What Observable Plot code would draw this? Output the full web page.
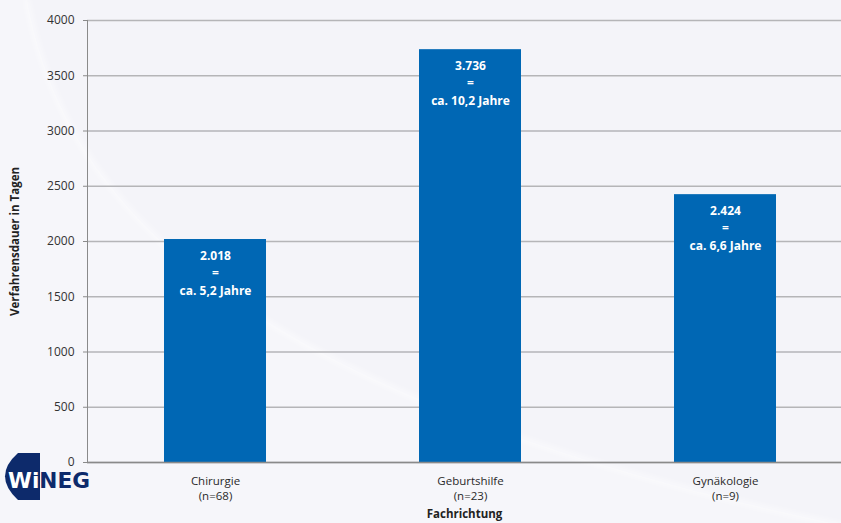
<!DOCTYPE html>
<html lang="de">
<head>
<meta charset="utf-8">
<script src="https://cdn.jsdelivr.net/npm/d3@7"></script>
<script src="https://cdn.jsdelivr.net/npm/@observablehq/plot@0.6"></script>
<style>
  html, body { margin: 0; padding: 0; background: #f4f4f9; }
  #wrap { position: relative; width: 841px; height: 523px; overflow: hidden; }
  #bg, #logo { position: absolute; left: 0; top: 0; pointer-events: none; }
  #chart { position: absolute; left: 0; top: 0; }
  #chart svg { background: transparent; overflow: visible; }
</style>
</head>
<body>
<div id="wrap">
  <svg id="bg" width="841" height="523">
    <defs>
      <filter id="soft" x="-10%" y="-10%" width="120%" height="120%"><feGaussianBlur stdDeviation="2.5"/></filter>
    </defs>
    <path d="M0,0 L27,0 C60,180 200,390 841,525 L0,523 Z" fill="#f6f6fa"/>
    <path d="M27,0 C60,180 200,390 841,525" fill="none" stroke="#ffffff" stroke-width="4" stroke-opacity="0.55" filter="url(#soft)"/>
  </svg>
  <div id="chart"></div>
  <svg id="logo" width="841" height="523">
    <defs>
      <clipPath id="disk"><path d="M40,453 L18,453 Q-8,476 18,500 L40,500 Z"/></clipPath>
    </defs>
    <path d="M40,453 L18,453 Q-8,476 18,500 L40,500 Z" fill="#0d2a6b"/>
    <text x="8" y="488" font-family="DejaVu Sans" font-weight="bold" font-size="21" textLength="82" lengthAdjust="spacingAndGlyphs" fill="#0d2a6b">WiNEG</text>
    <text x="8" y="488" font-family="DejaVu Sans" font-weight="bold" font-size="21" textLength="82" lengthAdjust="spacingAndGlyphs" fill="#ffffff" clip-path="url(#disk)">WiNEG</text>
  </svg>
</div>
<script>
// Verfahrensdauer nach Fachrichtung
const fachrichtung = ["Chirurgie", "Geburtshilfe", "Gynäkologie"];
const fallzahl = [68, 23, 9];
const tage = [2018, 3736, 2424];
const jahre = [5.2, 10.2, 6.6];
const yTicks = [0, 500, 1000, 1500, 2000, 2500, 3000, 3500, 4000];

const de = d3.formatLocale({decimal: ",", thousands: ".", grouping: [3], currency: ["", " €"]});
const fmtTage = de.format(",d");
const fmtJahre = de.format(",.1f");

const rows = fachrichtung.map((f, i) => ({
  fach: f,
  n: fallzahl[i],
  tage: tage[i],
  jahre: jahre[i]
}));
const xLabel = new Map(rows.map(d => [d.fach, `${d.fach}\n(n=${d.n})`]));

const font = "'Open Sans', 'Noto Sans', sans-serif";

const chart = Plot.plot({
  width: 841,
  height: 523,
  marginTop: 20,
  marginBottom: 61,
  marginLeft: 87,
  marginRight: 0,
  style: {fontFamily: font, fontSize: "12px", color: "#333", background: "transparent"},
  x: {domain: fachrichtung, range: [87, 852], paddingInner: 0.6, paddingOuter: 0.3},
  y: {domain: [0, 4000], range: [462, 20]},
  marks: [
    Plot.ruleY(yTicks, {stroke: "#b5b5b8", strokeWidth: 1.3}),
    Plot.barY(rows, {x: "fach", y: "tage", fill: "#0067b4"}),
    Plot.text(rows, {
      x: "fach", y: "tage",
      text: d => `${fmtTage(d.tage)}\n=\nca. ${fmtJahre(d.jahre)} Jahre`,
      fill: "white", fontWeight: "bold", fontSize: 12,
      lineAnchor: "top", lineHeight: 1.45, dy: 8
    }),
    Plot.axisY({
      ticks: yTicks, tickSize: 4, tickPadding: 9, tickFormat: d => String(d),
      stroke: "#8a8a8a", fill: "#333", fontSize: 12, label: null
    }),
    Plot.axisX({
      tickSize: 0, tickPadding: 11, lineHeight: 1.36,
      tickFormat: d => xLabel.get(d), fill: "#2a2a2a", fontSize: 11.5, label: null
    }),
    Plot.ruleY([0], {stroke: "#8a8a8a", strokeWidth: 1.3}),
    Plot.frame({anchor: "left", stroke: "#8a8a8a", strokeWidth: 1}),
    Plot.text(["Fachrichtung"], {
      frameAnchor: "bottom", dy: 55, fontWeight: "bold", fontSize: 11.5, fill: "#222"
    }),
    Plot.text(["Verfahrensdauer in Tagen"], {
      frameAnchor: "left", dx: -72, rotate: -90, textAnchor: "middle",
      fontWeight: "bold", fontSize: 11.5, fill: "#222"
    })
  ]
});
document.getElementById("chart").appendChild(chart);
</script>
</body>
</html>
